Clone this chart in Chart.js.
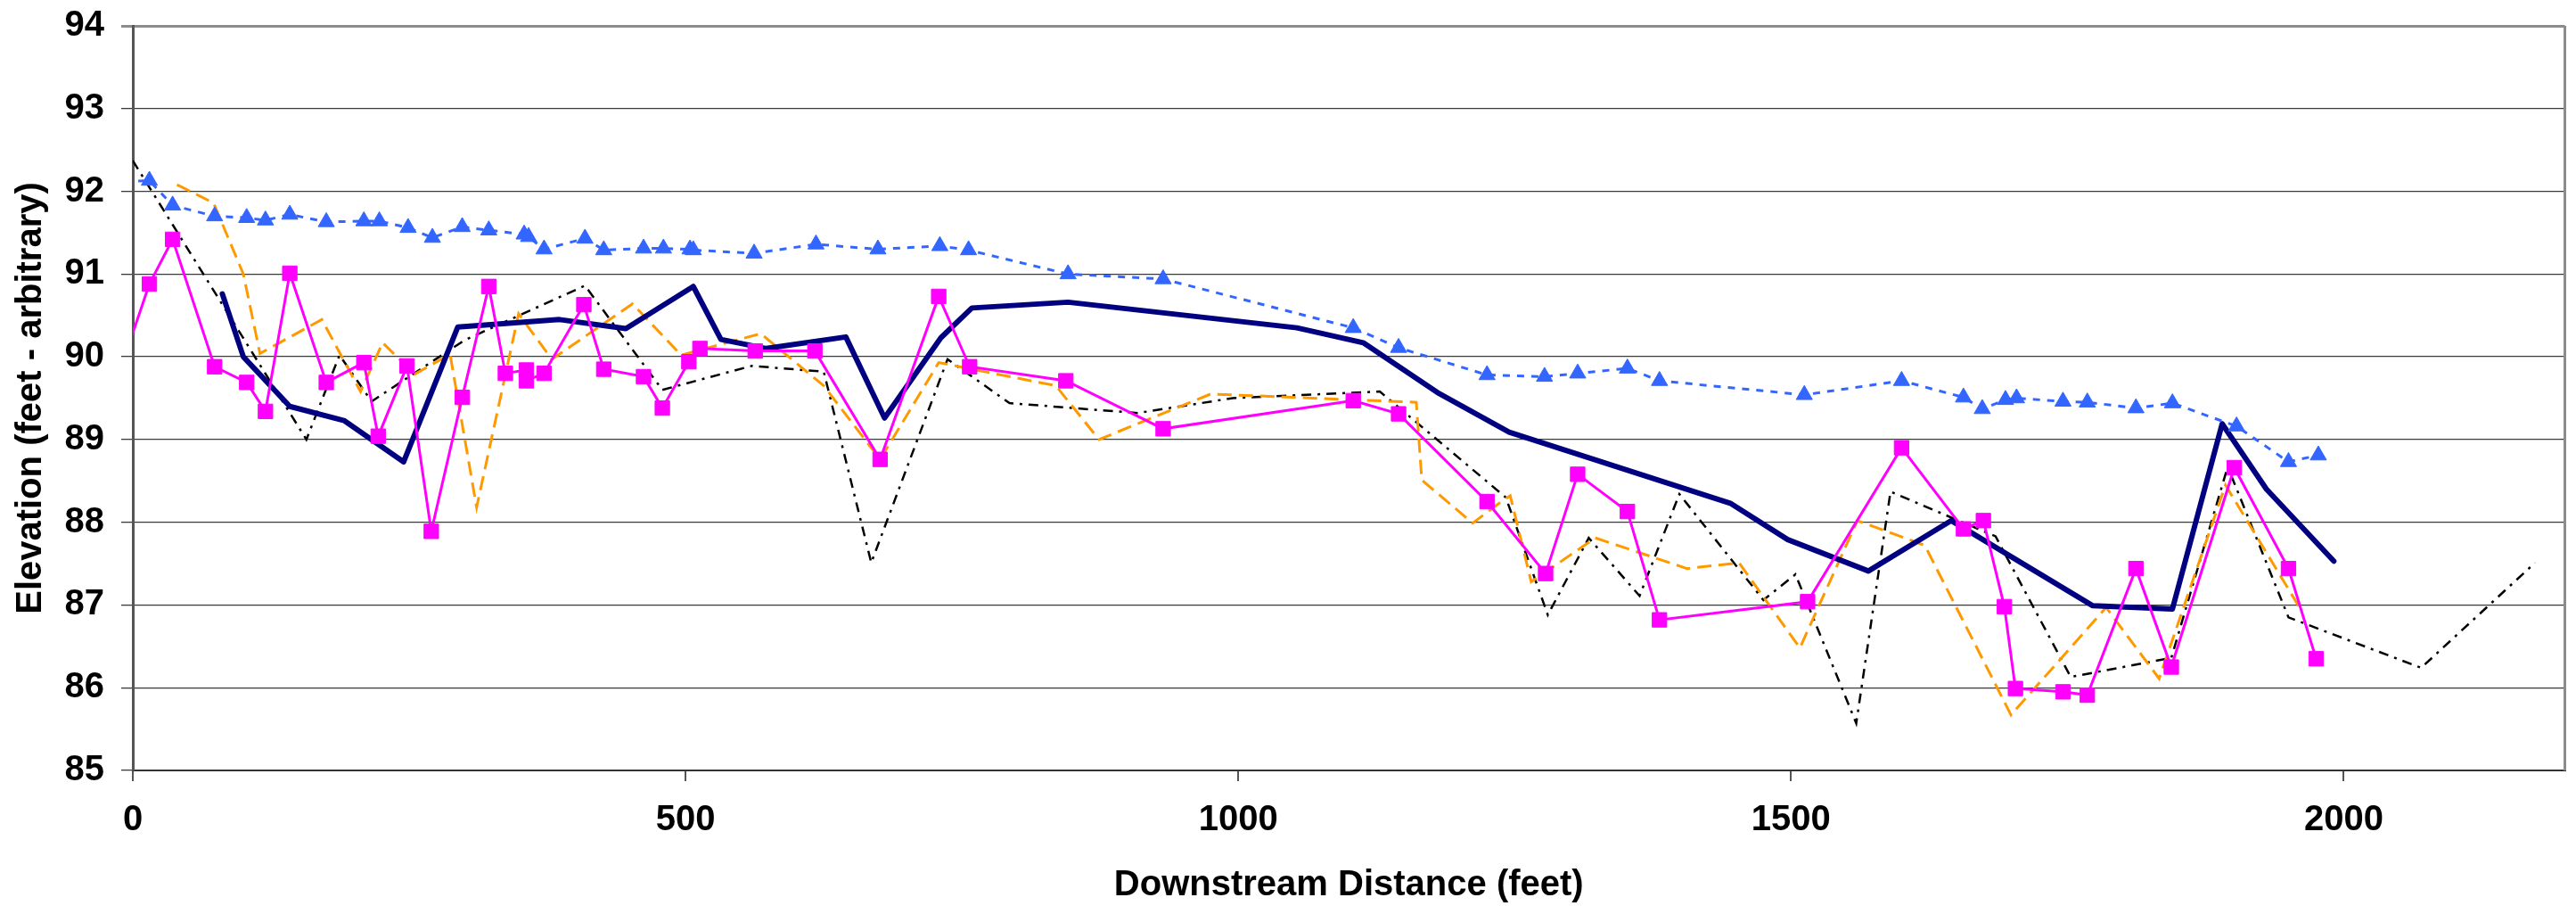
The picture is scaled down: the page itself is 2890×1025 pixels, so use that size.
<!DOCTYPE html>
<html>
<head>
<meta charset="utf-8">
<title>Downstream profile</title>
<script src="https://cdn.jsdelivr.net/npm/chart.js@4.4.1/dist/chart.umd.min.js"></script>
<style>
  html, body { margin: 0; padding: 0; background: #ffffff; }
  canvas { display: block; }
</style>
</head>
<body>
<canvas id="profileChart" width="2890" height="1025"></canvas>
<script>
// x tick labels (feet) and y range (feet - arbitrary)
const xTicks = [0, 500, 1000, 1500, 2000];
const yMin = 85;
const yMax = 94;

// blue dotted line with triangles
const triX = [-8, 15, 36, 74, 103, 120, 142, 175, 209, 223, 249, 271, 298, 322, 354, 358, 372, 409, 426, 462, 480, 504, 507, 562, 618, 674, 730, 756, 846, 932, 1104, 1145, 1225, 1277, 1307, 1352, 1381, 1512, 1600, 1656, 1673, 1694, 1704, 1746, 1768, 1812, 1845, 1903, 1950, 1977];
const triY = [92.12, 92.13, 91.83, 91.70, 91.68, 91.65, 91.72, 91.63, 91.64, 91.64, 91.56, 91.44, 91.57, 91.53, 91.48, 91.45, 91.30, 91.43, 91.29, 91.31, 91.31, 91.30, 91.29, 91.25, 91.36, 91.30, 91.34, 91.29, 91.00, 90.94, 90.35, 90.11, 89.78, 89.76, 89.80, 89.86, 89.71, 89.54, 89.71, 89.51, 89.37, 89.48, 89.50, 89.46, 89.45, 89.38, 89.44, 89.16, 88.73, 88.81];

// magenta line with squares
const sqX = [-4, -2, 15, 36, 74, 103, 120, 142, 175, 209, 222, 248, 270, 298, 322, 337, 356, 356, 372, 408, 426, 462, 479, 503, 513, 563, 617, 676, 729, 757, 844, 932, 1104, 1145, 1225, 1278, 1307, 1352, 1381, 1515, 1600, 1656, 1674, 1693, 1703, 1746, 1768, 1812, 1844, 1901, 1950, 1975];
const sqY = [90.42, 90.21, 90.88, 91.42, 89.88, 89.69, 89.34, 91.01, 89.69, 89.93, 89.04, 89.89, 87.89, 89.51, 90.85, 89.80, 89.84, 89.71, 89.80, 90.63, 89.85, 89.76, 89.38, 89.94, 90.10, 90.07, 90.07, 88.76, 90.73, 89.88, 89.71, 89.13, 89.47, 89.31, 88.25, 87.38, 88.58, 88.13, 86.82, 87.04, 88.90, 87.92, 88.02, 86.98, 85.99, 85.95, 85.91, 87.44, 86.25, 88.66, 87.44, 86.35];

// thick navy line
const solidX = [81, 100, 142, 191, 245, 294, 386, 446, 507, 532, 573, 645, 680, 731, 759, 846, 1053, 1113, 1180, 1245, 1445, 1497, 1570, 1645, 1773, 1845, 1890, 1930, 1991];
const solidY = [90.76, 90.00, 89.40, 89.23, 88.73, 90.36, 90.45, 90.34, 90.85, 90.21, 90.10, 90.24, 89.26, 90.23, 90.59, 90.66, 90.35, 90.17, 89.57, 89.09, 88.23, 87.79, 87.41, 88.02, 86.99, 86.95, 89.19, 88.40, 87.53];

// orange dashed line
const dashX = [40, 73, 100, 115, 171, 206, 226, 255, 287, 311, 349, 379, 452, 496, 568, 625, 676, 729, 835, 874, 975, 1161, 1166, 1212, 1238, 1246, 1265, 1323, 1406, 1453, 1508, 1560, 1621, 1699, 1785, 1833, 1893, 1960];
const dashY = [92.08, 91.86, 91.00, 90.04, 90.45, 89.58, 90.17, 89.79, 90.03, 88.18, 90.52, 89.97, 90.64, 90.02, 90.28, 89.65, 88.76, 89.93, 89.65, 89.00, 89.55, 89.45, 88.51, 87.99, 88.25, 88.32, 87.28, 87.81, 87.44, 87.51, 86.48, 88.02, 87.72, 85.67, 86.97, 86.11, 88.45, 86.97];

// black dash-dot line
const dashDotX = [0, 157, 187, 216, 300, 409, 479, 560, 625, 668, 737, 793, 909, 995, 1128, 1242, 1280, 1317, 1363, 1399, 1475, 1504, 1559, 1590, 1685, 1753, 1844, 1895, 1950, 2070, 2173];
const dashDotY = [92.37, 89.00, 90.02, 89.46, 90.20, 90.86, 89.60, 89.89, 89.82, 87.51, 89.97, 89.44, 89.32, 89.50, 89.58, 88.30, 86.88, 87.81, 87.11, 88.34, 87.06, 87.37, 85.57, 88.37, 87.83, 86.13, 86.36, 88.67, 86.85, 86.24, 87.51];

const toPoints = (xs, ys) => xs.map((x, i) => ({ x: x, y: ys[i] }));

const fontFamily = '"Liberation Sans", Arial, Helvetica, sans-serif';
const tickFont = { family: fontFamily, size: 40, weight: 'bold' };
const titleFont = { family: fontFamily, size: 40, weight: 'bold' };

// gray frame on the right edge of the plot
const plotFrame = {
    id: 'plotFrame',
    afterDraw(chart) {
        const { ctx, chartArea: a } = chart;
        ctx.save();
        ctx.strokeStyle = '#8c8c8c';
        ctx.lineWidth = 3;
        ctx.beginPath();
        ctx.moveTo(a.right, a.top);
        ctx.lineTo(a.right, a.bottom);
        ctx.stroke();
        ctx.restore();
    }
};

const hideOffAxis = (r) => (ctx) => (ctx.parsed && ctx.parsed.x < 0 ? 0 : r);

const ctx = document.getElementById('profileChart').getContext('2d');

new Chart(ctx, {
    type: 'line',
    data: {
        datasets: [
            {
                data: toPoints(triX, triY),
                borderColor: '#3366ff',
                borderWidth: 3,
                borderDash: [8, 8],
                pointStyle: 'triangle',
                pointRadius: hideOffAxis(10.5),
                pointBackgroundColor: '#3366ff',
                pointBorderColor: '#3366ff',
                pointBorderWidth: 1,
                tension: 0
            },
            {
                data: toPoints(sqX, sqY),
                borderColor: '#ff00ff',
                borderWidth: 3,
                pointStyle: 'rect',
                pointRadius: hideOffAxis(11.5),
                pointBackgroundColor: '#ff00ff',
                pointBorderColor: '#ff00ff',
                pointBorderWidth: 1,
                tension: 0
            },
            {
                data: toPoints(solidX, solidY),
                borderColor: '#000080',
                borderWidth: 6,
                borderJoinStyle: 'round',
                borderCapStyle: 'round',
                pointRadius: 0,
                tension: 0
            },
            {
                data: toPoints(dashX, dashY),
                borderColor: '#ff9900',
                borderWidth: 3,
                borderDash: [16, 8],
                pointRadius: 0,
                tension: 0
            },
            {
                data: toPoints(dashDotX, dashDotY),
                borderColor: '#000000',
                borderWidth: 2.5,
                borderDash: [11, 7, 3, 7],
                pointRadius: 0,
                tension: 0
            }
        ]
    },
    options: {
        responsive: false,
        animation: false,
        layout: { padding: { top: 29, right: 12, left: 0, bottom: 0 } },
        plugins: {
            legend: { display: false },
            tooltip: { enabled: false }
        },
        scales: {
            x: {
                type: 'linear',
                min: 0,
                max: 2200,
                afterBuildTicks: (scale) => { scale.ticks = xTicks.map(v => ({ value: v })); },
                afterFit: (scale) => {
                    scale.height = 161;
                    scale.paddingLeft = 0;
                    scale.paddingRight = 0;
                },
                grid: { drawOnChartArea: false, tickLength: 12, color: '#555555', lineWidth: 2 },
                border: { color: '#333333', width: 2 },
                ticks: {
                    font: tickFont,
                    color: '#000000',
                    padding: 20,
                    maxRotation: 0,
                    callback: (value) => String(value)
                },
                title: { display: true, text: 'Downstream Distance (feet)', font: titleFont, color: '#000000', padding: 8 }
            },
            y: {
                min: yMin,
                max: yMax,
                afterFit: (scale) => {
                    scale.width = 149;
                    scale.paddingTop = 0;
                    scale.paddingBottom = 0;
                },
                grid: {
                    tickLength: 13,
                    color: (c) => (c.tick && c.tick.value === yMax ? '#8c8c8c' : '#3a3a3a'),
                    lineWidth: (c) => (c.tick && c.tick.value === yMax ? 3 : 1.3)
                },
                border: { color: '#555555', width: 3 },
                ticks: {
                    stepSize: 1,
                    font: tickFont,
                    color: '#000000',
                    padding: 19,
                    callback: (value) => String(value)
                },
                title: { display: true, text: 'Elevation (feet - arbitrary)', font: titleFont, color: '#000000', padding: 11 }
            }
        }
    },
    plugins: [plotFrame]
});
</script>
</body>
</html>
